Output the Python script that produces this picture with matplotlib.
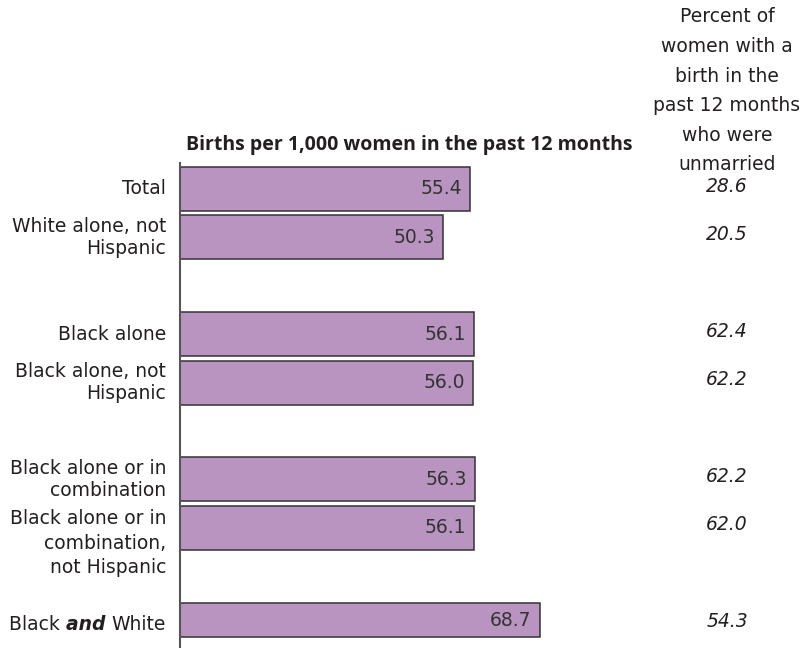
import matplotlib
matplotlib.use("Agg")
import matplotlib.pyplot as plt
import matplotlib.transforms as mtransforms

plt.rcParams['font.family'] = ['DejaVu Sans']

# Data
categories = ['Total', 'White alone, not\nHispanic', 'Black alone',
              'Black alone, not\nHispanic', 'Black alone or in\ncombination',
              'Black alone or in\ncombination,\nnot Hispanic', 'Black and White']
births = [55.4, 50.3, 56.1, 56.0, 56.3, 56.1, 68.7]
pct_unmarried = [28.6, 20.5, 62.4, 62.2, 62.2, 62.0, 54.3]

# row slots (groups separated by a blank row)
rows = [0, 1, 3, 4, 6, 7, 9]
heights = [0.91, 0.91, 0.91, 0.91, 0.91, 0.91, 0.72]

bar_color = '#B994C1'
text_color = '#231F20'

fig = plt.figure(figsize=(8.02, 6.48), dpi=100)
ax = fig.add_axes([180 / 802, 0, 620 / 802, 485 / 648])

tops = [r - 0.455 for r in rows]
ax.barh(tops, births, height=heights, align='edge', color=bar_color,
        edgecolor='#333333', linewidth=1.1, zorder=2)

ax.set_xlim(0, 620 / 5.235)
ax.set_ylim(9.483, -0.537)
for s in ['top', 'right', 'bottom']:
    ax.spines[s].set_visible(False)
ax.spines['left'].set_color('#555555')
ax.spines['left'].set_linewidth(1.5)
ax.set_xticks([])
ax.set_yticks([])

fs = 13.5
# values inside bars
for t, h, v in zip(tops, heights, births):
    ax.annotate(f'{v:.1f}', xy=(v, t + h / 2), xytext=(-8, 0),
                textcoords='offset pixels', ha='right', va='center',
                fontsize=fs, color='#333333')

lab_tr = mtransforms.blended_transform_factory(fig.transFigure, ax.transData)
lab_x = 166 / 802
fig.canvas.draw()
renderer = fig.canvas.get_renderer()
for r, lab in zip(rows, categories):
    nlines = lab.count('\n') + 1
    if lab == 'Black and White':
        t1 = ax.text(lab_x, r, 'White', transform=lab_tr, ha='right',
                     va='center', fontsize=fs, color=text_color)
        bb = t1.get_window_extent(renderer)
        x2 = fig.transFigure.inverted().transform((bb.x0, 0))[0]
        t2 = ax.text(x2, r, 'and ', transform=lab_tr, ha='right', va='center',
                     fontsize=fs, color=text_color, fontweight='bold',
                     fontstyle='italic')
        bb2 = t2.get_window_extent(renderer)
        x3 = fig.transFigure.inverted().transform((bb2.x0, 0))[0]
        ax.text(x3, r, 'Black ', transform=lab_tr, ha='right', va='center',
                fontsize=fs, color=text_color)
    elif nlines == 3:
        ax.text(lab_x, r - 0.38, lab, transform=lab_tr, ha='right', va='top',
                fontsize=fs, color=text_color, linespacing=1.34)
    else:
        ax.text(lab_x, r, lab, transform=lab_tr, ha='right', va='center',
                fontsize=fs, color=text_color, linespacing=1.15)

# right column
col_x = 727 / 802
for r, v in zip(rows, pct_unmarried):
    ax.text(col_x, r - 0.06, f'{v:.1f}', transform=lab_tr, ha='center',
            va='center', fontsize=fs, color=text_color, fontstyle='italic')

fig.text(col_x, 1 - 170 / 648, 'Percent of\nwomen with a\nbirth in the\npast 12 months\nwho were\nunmarried',
         ha='center', va='baseline', fontsize=fs, color=text_color,
         linespacing=1.70, multialignment='center')

fig.text(633 / 802, 1 - 150 / 648, 'Births per 1,000 women in the past 12 months',
         ha='right', va='baseline', fontsize=14, fontweight='bold',
         color=text_color, family='Open Sans')

fig.savefig('out.png', dpi=100)
